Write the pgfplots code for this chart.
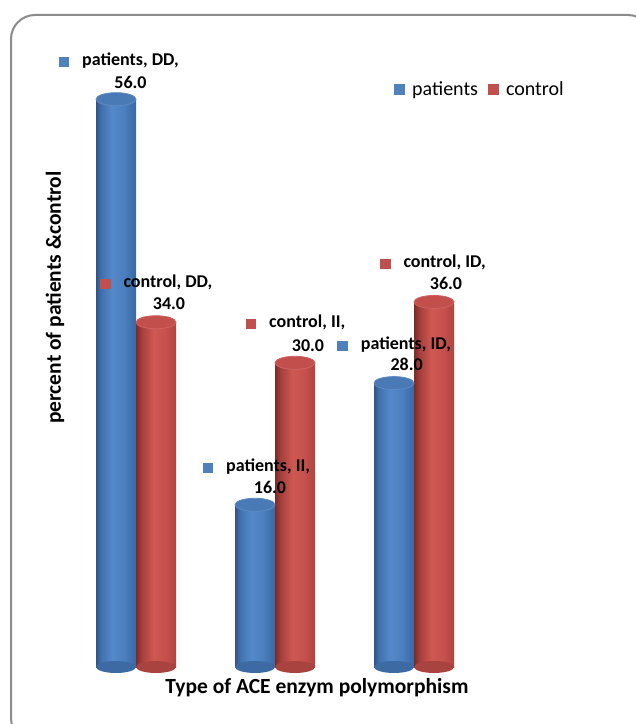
\documentclass[border=0pt]{standalone}
\usepackage{pgfplots}
\pgfplotsset{compat=1.18}
\usepackage{fontspec}
\setmainfont{Carlito}
\definecolor{pblue}{HTML}{4F81BD}
\definecolor{pred}{HTML}{C0504D}
\definecolor{bL}{HTML}{2E5489}
\definecolor{bA}{HTML}{4270AC}
\definecolor{bM}{HTML}{5389CA}
\definecolor{bMM}{HTML}{4B7FBF}
\definecolor{bR}{HTML}{3A68A3}
\definecolor{rL}{HTML}{7A2B29}
\definecolor{rA}{HTML}{A63F3C}
\definecolor{rM}{HTML}{CF5853}
\definecolor{rMM}{HTML}{C6504C}
\definecolor{rR}{HTML}{AE4541}
\definecolor{bcap}{HTML}{4A7AB5}
\definecolor{bcapE}{HTML}{5C8AC4}
\definecolor{rcap}{HTML}{C24F4C}
\definecolor{rcapE}{HTML}{CF6260}
\definecolor{bbot}{HTML}{3D6AA3}
\definecolor{rbot}{HTML}{A8433F}
\definecolor{frame}{HTML}{8C8C8C}
\pgfdeclarehorizontalshading{bcyl}{100bp}{color(0bp)=(bL); color(25bp)=(bL); color(31bp)=(bA); color(45bp)=(bM); color(60bp)=(bMM); color(75bp)=(bR); color(100bp)=(bR)}
\pgfdeclarehorizontalshading{rcyl}{100bp}{color(0bp)=(rL); color(25bp)=(rL); color(32bp)=(rA); color(47bp)=(rM); color(62bp)=(rMM); color(75bp)=(rR); color(100bp)=(rR)}
\pgfdeclareplotmark{capL}{\pgfpathellipse{\pgfqpoint{-20pt}{0pt}}{\pgfqpoint{20pt}{0pt}}{\pgfqpoint{0pt}{6.5pt}}\pgfusepathqfillstroke}
\pgfdeclareplotmark{capR}{\pgfpathellipse{\pgfqpoint{20pt}{0pt}}{\pgfqpoint{20pt}{0pt}}{\pgfqpoint{0pt}{6.5pt}}\pgfusepathqfillstroke}
\pgfdeclareplotmark{botL}{\pgfpathellipse{\pgfqpoint{-20pt}{0pt}}{\pgfqpoint{20pt}{0pt}}{\pgfqpoint{0pt}{6pt}}\pgfusepathqfill}
\pgfdeclareplotmark{botR}{\pgfpathellipse{\pgfqpoint{20pt}{0pt}}{\pgfqpoint{20pt}{0pt}}{\pgfqpoint{0pt}{6pt}}\pgfusepathqfill}
\newcommand{\lblfont}{\bfseries\fontsize{18}{22}\selectfont}
\pgfplotsset{
  bluebar/.style={forget plot, ybar, bar width=40pt, bar shift=-20pt, draw=none, shading=bcyl, shading angle=0},
  redbar/.style={forget plot, ybar, bar width=40pt, bar shift=20pt, draw=none, shading=rcyl, shading angle=0},
}
\begin{document}
\begin{tikzpicture}[x=1pt,y=1pt]
\useasboundingbox (0,0) rectangle (636,724);
\begin{scope}
\clip (0,0) rectangle (636,724);
\draw[frame, line width=2pt, rounded corners=24pt, fill=white] (11,709) rectangle (652,-18);
\end{scope}
\begin{axis}[
  at={(66.5pt,57pt)}, anchor=south west,
  scale only axis, width=417pt, height=608.4pt,
  xmin=-0.5, xmax=2.5, ymin=0, ymax=60,
  axis line style={draw=none},
  xtick=\empty, ytick=\empty,
  clip=false,
  xlabel={Type of ACE enzym polymorphism},
  ylabel={percent of patients \&control},
  xlabel style={font=\bfseries\fontsize{21.5}{26}\selectfont, at={(axis description cs:0.6007,0)}, anchor=center, yshift=-21pt},
  ylabel style={font=\bfseries\fontsize{21.5}{26}\selectfont, at={(axis description cs:-0.0276,0.6073)}, anchor=center},
  legend columns=2,
  legend image code/.code={\fill[#1, draw=none] (0pt,-5.5pt) rectangle (11pt,5.5pt);},
  legend style={draw=none, fill=none, at={(axis description cs:0.7854,0.95)}, anchor=west,
    font=\fontsize{20}{24}\selectfont, inner sep=0pt, nodes={inner sep=0pt},
    /tikz/every odd column/.append style={column sep=7pt},
    /tikz/every even column/.append style={column sep=10pt}},
]
% blue (patients)
\addplot[forget plot, only marks, mark=botL, mark options={fill=bbot, draw=none}] coordinates {(0,0) (1,0) (2,0)};
\addplot[bluebar] coordinates {(0,56)};
\addplot[bluebar] coordinates {(1,16)};
\addplot[bluebar] coordinates {(2,28)};
\addplot[forget plot, only marks, mark=capL, mark options={fill=bcap, draw=bcapE, line width=0.8pt}] coordinates {(0,56) (1,16) (2,28)};
% red (control)
\addplot[forget plot, only marks, mark=botR, mark options={fill=rbot, draw=none}] coordinates {(0,0) (1,0) (2,0)};
\addplot[redbar] coordinates {(0,34)};
\addplot[redbar] coordinates {(1,30)};
\addplot[redbar] coordinates {(2,36)};
\addplot[forget plot, only marks, mark=capR, mark options={fill=rcap, draw=rcapE, line width=0.8pt}] coordinates {(0,34) (1,30) (2,36)};
\addlegendimage{fill=pblue}
\addlegendentry{patients}
\addlegendimage{fill=pred}
\addlegendentry{control}
\end{axis}
% data labels
\newcommand{\sq}[1]{\llap{\textcolor{#1}{\rule[-1.5pt]{10.5pt}{10.5pt}}\hspace{13pt}}}
\node[anchor=base west, inner sep=0pt, font=\lblfont] at (82,658) {\sq{pblue}patients, DD,};
\node[anchor=base, inner sep=0pt, font=\lblfont] at (130.5,635.7) {56.0};
\node[anchor=base west, inner sep=0pt, font=\lblfont] at (123.3,436) {\sq{pred}control, DD,};
\node[anchor=base, inner sep=0pt, font=\lblfont] at (169,414) {34.0};
\node[anchor=base west, inner sep=0pt, font=\lblfont] at (269,396) {\sq{pred}control, II,};
\node[anchor=base, inner sep=0pt, font=\lblfont] at (308,372.3) {30.0};
\node[anchor=base west, inner sep=0pt, font=\lblfont] at (226,252.3) {\sq{pblue}patients, II,};
\node[anchor=base, inner sep=0pt, font=\lblfont] at (270,230.7) {16.0};
\node[anchor=base west, inner sep=0pt, font=\lblfont] at (360.7,374) {\sq{pblue}patients, ID,};
\node[anchor=base, inner sep=0pt, font=\lblfont] at (406.7,353) {28.0};
\node[anchor=base west, inner sep=0pt, font=\lblfont] at (403.3,456) {\sq{pred}control, ID,};
\node[anchor=base, inner sep=0pt, font=\lblfont] at (446,434) {36.0};
\end{tikzpicture}
\end{document}
